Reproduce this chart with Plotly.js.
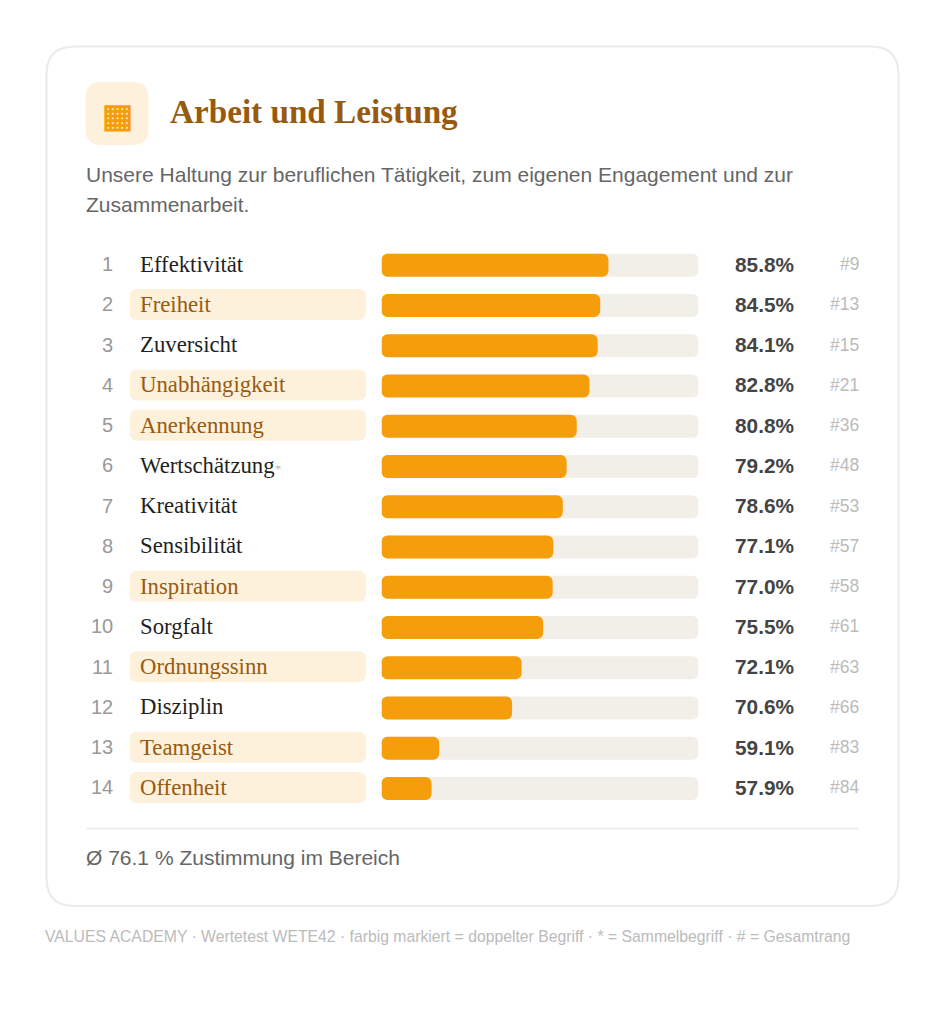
<!DOCTYPE html>
<html>
<head>
<meta charset="utf-8">
<script src="https://cdn.plot.ly/plotly-3.0.1.min.js"></script>
<style>
html, body { margin: 0; padding: 0; background: #fff; }
</style>
</head>
<body>
<div id="chart" style="width:945px;height:1024px"></div>
<script>
const labels = ['Effektivität', 'Freiheit', 'Zuversicht', 'Unabhängigkeit', 'Anerkennung', 'Wertschätzung', 'Kreativität',
    'Sensibilität', 'Inspiration', 'Sorgfalt', 'Ordnungssinn', 'Disziplin', 'Teamgeist', 'Offenheit'];
const values = [85.8, 84.5, 84.1, 82.8, 80.8, 79.2, 78.6, 77.1, 77.0, 75.5, 72.1, 70.6, 59.1, 57.9];
const overallRank = [9, 13, 15, 21, 36, 48, 53, 57, 58, 61, 63, 66, 83, 84];
const doubled = [0, 1, 0, 1, 1, 0, 0, 0, 1, 0, 1, 0, 1, 1];
const collective = [0, 0, 0, 0, 0, 1, 0, 0, 0, 0, 0, 0, 0, 0];

const ranks = labels.map((_, i) => i + 1);
const axisMin = 50, axisMax = 100;

const W = 945, H = 1024;
const AMBER = '#f59e0b', BROWN = '#975a0f', CREAM = '#fef1dc';
const px = x => x / W;
const py = y => 1 - y / H;

// rounded rectangle in page pixels, as a paper-referenced path
function roundRect(x0, y0, x1, y1, r, fill, line) {
    const X = v => px(v).toFixed(5), Y = v => py(v).toFixed(5);
    const d = [
        'M', X(x0 + r), Y(y0), 'L', X(x1 - r), Y(y0),
        'Q', X(x1), Y(y0), X(x1), Y(y0 + r), 'L', X(x1), Y(y1 - r),
        'Q', X(x1), Y(y1), X(x1 - r), Y(y1), 'L', X(x0 + r), Y(y1),
        'Q', X(x0), Y(y1), X(x0), Y(y1 - r), 'L', X(x0), Y(y0 + r),
        'Q', X(x0), Y(y0), X(x0 + r), Y(y0), 'Z'
    ].join(' ');
    return { type: 'path', xref: 'paper', yref: 'paper', path: d, fillcolor: fill, line: line || { width: 0 }, layer: 'below' };
}

function pageText(x, y, text, size, color, family, anchor) {
    return {
        xref: 'paper', yref: 'paper', x: px(x), y: py(y), text: text, showarrow: false,
        xanchor: anchor || 'left', yanchor: 'middle', borderpad: 0,
        font: { size: size, color: color, family: family }
    };
}

const SANS = '"Liberation Sans", sans-serif';
const SERIF = '"Liberation Serif", serif';

const pillRows = ranks.filter((_, i) => doubled[i]);

const traces = [
    // cream pills behind the doubled terms (base 1 so both ends get rounded)
    {
        type: 'bar', orientation: 'h', xaxis: 'x2', yaxis: 'y2',
        y: pillRows, x: pillRows.map(() => 1), base: 1,
        width: 0.77, marker: { color: CREAM, cornerradius: 7 }, hoverinfo: 'skip'
    },
    // track
    {
        type: 'bar', orientation: 'h', y: ranks, x: ranks.map(() => axisMax - axisMin), base: axisMin,
        width: 0.57, marker: { color: '#f2efe9', cornerradius: 6 }, hoverinfo: 'skip'
    },
    // values
    {
        type: 'bar', orientation: 'h', y: ranks, x: values.map(v => v - axisMin), base: axisMin,
        width: 0.57, marker: { color: AMBER, cornerradius: 6 }, hoverinfo: 'skip'
    }
];

const rowNotes = [];
labels.forEach((name, i) => {
    const star = collective[i] ? '<span style="font-size:13px;color:#b5b5b5">*</span>' : '';
    const row = { yref: 'y', y: ranks[i], yshift: 1, showarrow: false, yanchor: 'middle', xref: 'paper', borderpad: 0 };
    rowNotes.push(Object.assign({}, row, {
        x: px(114.4), xanchor: 'right', text: String(ranks[i]),
        font: { size: 20, color: '#999999', family: SANS }
    }));
    rowNotes.push(Object.assign({}, row, {
        x: px(139), xanchor: 'left', text: name + star,
        font: { size: 22.75, color: doubled[i] ? BROWN : '#1f1f1f', family: SERIF }
    }));
    rowNotes.push(Object.assign({}, row, {
        x: px(794.5), xanchor: 'right', text: '<b>' + values[i].toFixed(1) + '%</b>',
        font: { size: 20.8, color: '#444444', family: SANS }
    }));
    rowNotes.push(Object.assign({}, row, {
        x: px(860), xanchor: 'right', text: '#' + overallRank[i],
        font: { size: 17.5, color: '#bbbbbb', family: SANS }
    }));
});

const layout = {
    width: W, height: H,
    margin: { l: 0, r: 0, t: 0, b: 0 },
    paper_bgcolor: '#ffffff', plot_bgcolor: 'rgba(0,0,0,0)',
    barmode: 'overlay', showlegend: false, hovermode: false,
    xaxis: { domain: [px(381.5), px(698.5)], range: [axisMin, axisMax], visible: false, fixedrange: true },
    xaxis2: { domain: [px(129.5), px(366)], range: [1, 2], visible: false, fixedrange: true, anchor: 'y2' },
    yaxis: { domain: [py(808.6), py(245.1)], range: [14.5, 0.5], visible: false, fixedrange: true },
    // same rows, one pixel higher: the pills sit slightly above the bars
    yaxis2: { domain: [py(807.6), py(244.1)], range: [14.5, 0.5], visible: false, fixedrange: true, anchor: 'x2' },
    shapes: [
        roundRect(46.5, 46.5, 898.5, 906, 28, '#ffffff', { color: '#ebebeb', width: 2 }),
        roundRect(85.5, 82, 148.5, 145, 16, CREAM),
        { type: 'line', xref: 'paper', yref: 'paper', x0: px(86), x1: px(859), y0: py(828.5), y1: py(828.5), line: { color: '#eeeeee', width: 2 } }
    ],
    annotations: [
        pageText(117.5, 115, '<b>▦</b>', 33, AMBER, SANS, 'center'),
        pageText(169.2, 111, '<b>Arbeit und Leistung</b>', 33.2, BROWN, SERIF),
        pageText(85, 174.4, 'Unsere Haltung zur beruflichen Tätigkeit, zum eigenen Engagement und zur', 21, '#666666', SANS),
        pageText(85, 204, 'Zusammenarbeit.', 21, '#666666', SANS),
        pageText(85, 857.2, 'Ø 76.1 % Zustimmung im Bereich', 21, '#666666', SANS),
        pageText(44.2, 936, 'VALUES ACADEMY · Wertetest WETE42 · farbig markiert = doppelter Begriff · * = Sammelbegriff · # = Gesamtrang', 15.75, '#bbbbbb', SANS)
    ].concat(rowNotes)
};

Plotly.newPlot('chart', traces, layout, { displayModeBar: false, staticPlot: true });
</script>
</body>
</html>
